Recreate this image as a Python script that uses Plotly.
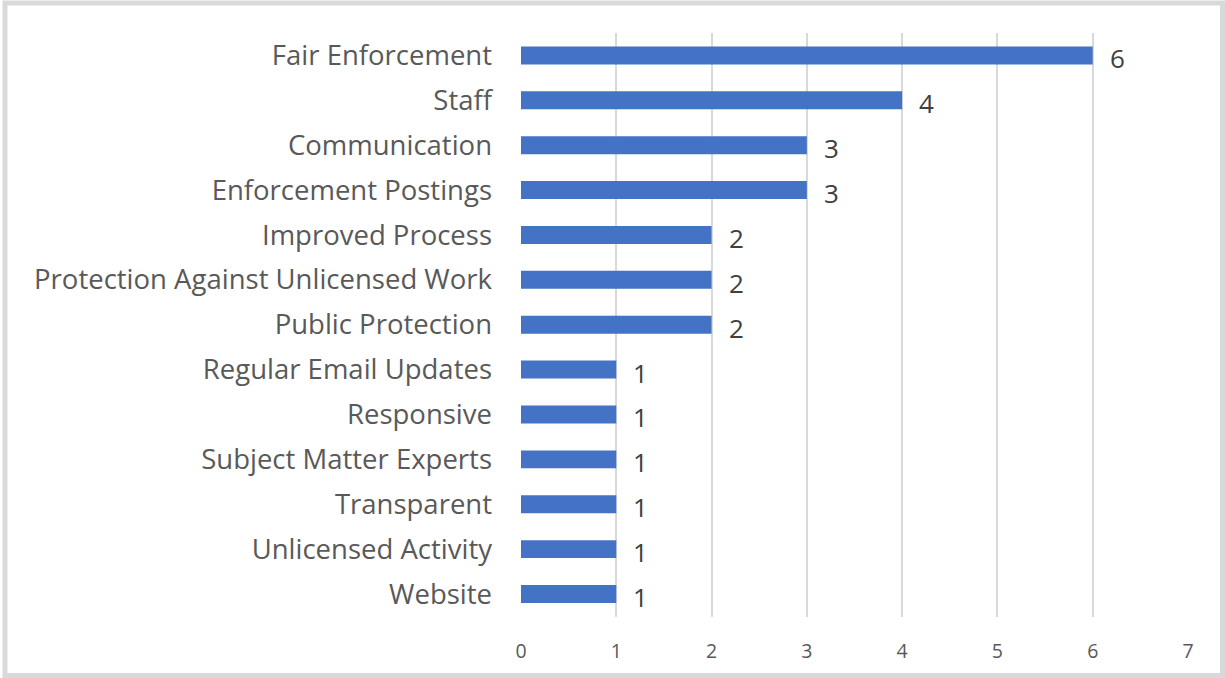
import plotly.graph_objects as go

categories = [
    "Fair Enforcement",
    "Staff",
    "Communication",
    "Enforcement Postings",
    "Improved Process",
    "Protection Against Unlicensed Work",
    "Public Protection",
    "Regular Email Updates",
    "Responsive",
    "Subject Matter Experts",
    "Transparent",
    "Unlicensed Activity",
    "Website",
]
counts = [6, 4, 3, 3, 2, 2, 2, 1, 1, 1, 1, 1, 1]
x_ticks = [0, 1, 2, 3, 4, 5, 6, 7]

W, H = 1225, 678
L, R, T, B = 521, 37, 32.5, 60.5
pw, ph = W - L - R, H - T - B

FONT = "Open Sans"

fig = go.Figure(
    go.Bar(
        x=counts,
        y=categories,
        orientation="h",
        marker=dict(color="#4472C4", line=dict(width=0)),
        width=0.4,
        hoverinfo="x+y",
    )
)

# value labels next to each bar end
for cat, v in zip(categories, counts):
    fig.add_annotation(
        x=v, y=cat, text=str(v), showarrow=False,
        xanchor="left", xshift=15, yshift=-3,
        font=dict(family=FONT, size=26, color="#404040"),
    )

# outer chart frame
def px_x(p):
    return (p - L) / pw

def px_y(p):
    return (H - B - p) / ph

fig.add_shape(
    type="rect", xref="paper", yref="paper",
    x0=px_x(5), x1=px_x(1222.5), y0=px_y(676), y1=px_y(2.5),
    line=dict(color="#D9D9D9", width=5), fillcolor="rgba(0,0,0,0)",
    layer="below",
)

fig.update_layout(
    width=W, height=H,
    margin=dict(l=L, r=R, t=T, b=B),
    paper_bgcolor="white",
    plot_bgcolor="white",
    showlegend=False,
    bargap=0.6,
    xaxis=dict(
        range=[0, 7],
        tickvals=x_ticks,
        ticktext=[str(t) for t in x_ticks],
        showgrid=True,
        gridcolor="#D9D9D9",
        gridwidth=1.5,
        zeroline=False,
        showline=False,
        ticks="",
        tickfont=dict(family=FONT, size=19.5, color="#595959"),
        ticklabelstandoff=20,
        fixedrange=True,
    ),
    yaxis=dict(
        categoryorder="array",
        categoryarray=categories[::-1],
        showgrid=False,
        zeroline=False,
        showline=False,
        ticks="",
        ticklabelstandoff=28,
        tickfont=dict(family=FONT, size=27.5, color="#595959"),
        fixedrange=True,
    ),
)

fig.write_html("out.html")
